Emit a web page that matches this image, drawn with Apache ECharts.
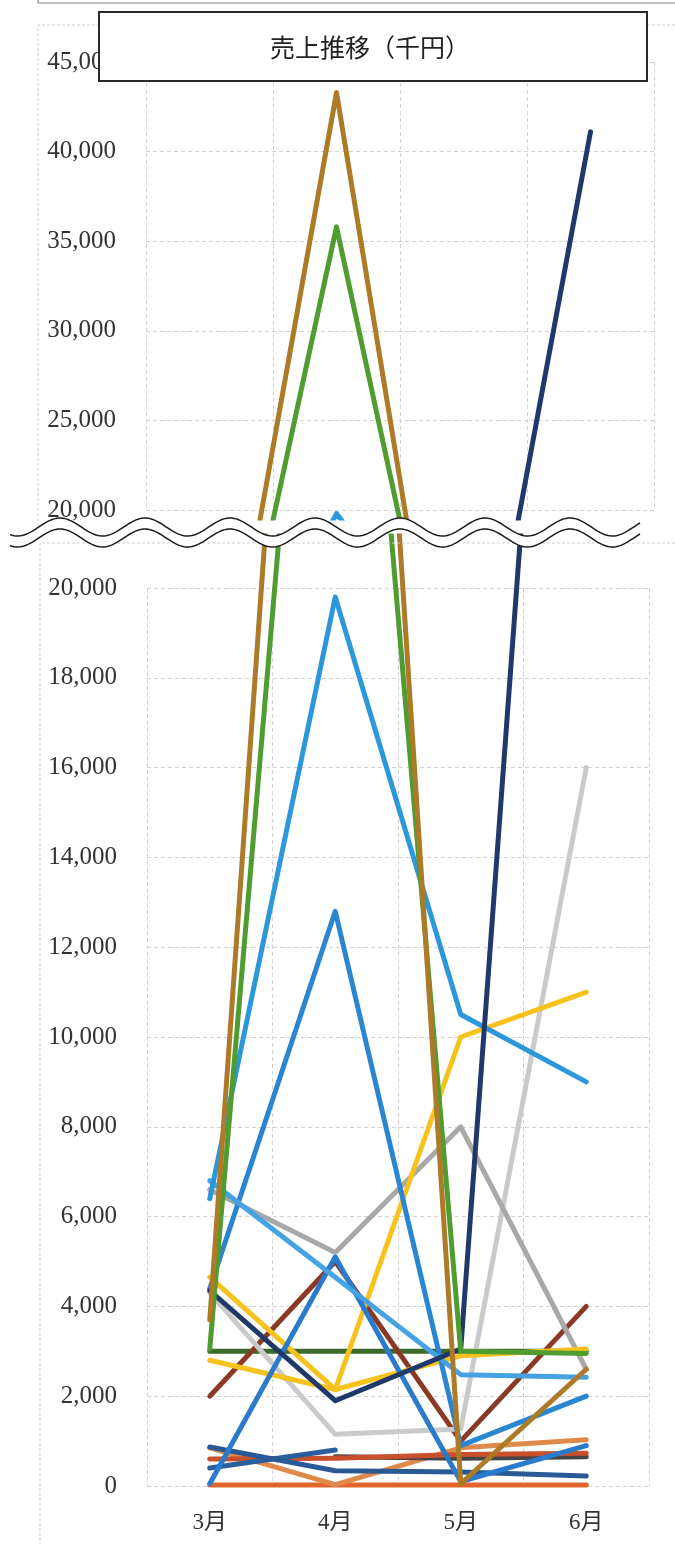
<!DOCTYPE html>
<html>
<head>
<meta charset="utf-8">
<script src="https://cdn.jsdelivr.net/npm/echarts@6/dist/echarts.min.js"></script>
<style>
  html, body { margin: 0; padding: 0; background: #ffffff; }
  #chart { width: 675px; height: 1544px; }
</style>
</head>
<body>
<div id="chart"></div>
<script>
// Months on the category axis
const months = ['3月', '4月', '5月', '6月'];

// Monthly sales per line (thousand yen)
const goldLine      = [3700, 43300, 50, 2600];
const greenLine     = [3050, 35800, 3000, 2950];
const navyLine      = [4350, 1900, 3050, 41100];
const skyLine       = [6400, 19800, 10500, 9000];
const blueLineB     = [4400, 12800, 900, 2000];
const blueLineA     = [50, 5100, 100, 900];
const lightBlueLine = [6800, 4650, 2480, 2420];
const yellowLineA   = [4650, 2150, 10000, 11000];
const yellowLineB   = [2800, 2150, 2900, 3050];
const grayLine      = [6600, 5200, 8000, 2600];
const silverLine    = [4300, 1150, 1270, 16000];
const maroonLine    = [2000, 5000, 1000, 4000];
const forestLine    = [3000, 3000, 3000, 3000];
const steelLine     = [870, 340, 310, 220];
const steelShort    = [400, 800, null, null];
const rustLine      = [600, 620, 700, 730];
const charcoalLine  = [null, 650, 620, 650];
const apricotLine   = [850, 30, 850, 1030];
const orangeLine    = [20, 20, 20, 20];

// Axis ranges of the two panels (upper panel / lower panel)
const upperRange = { min: 20000, max: 45000, step: 5000 };
const lowerRange = { min: 0, max: 20000, step: 2000 };

const lines = [
  { data: orangeLine,    color: '#e0662b' },
  { data: apricotLine,   color: '#df8a4a' },
  { data: charcoalLine,  color: '#454545' },
  { data: rustLine,      color: '#c9502c' },
  { data: steelShort,    color: '#2a5f9e' },
  { data: steelLine,     color: '#2a5a96' },
  { data: forestLine,    color: '#3a6a2a' },
  { data: maroonLine,    color: '#8a3a24' },
  { data: silverLine,    color: '#c9cbcb' },
  { data: grayLine,      color: '#a8a8a8' },
  { data: yellowLineB,   color: '#f8c21c' },
  { data: yellowLineA,   color: '#f8c21c' },
  { data: blueLineA,     color: '#2a7bcc' },
  { data: blueLineB,     color: '#2a86d2' },
  { data: lightBlueLine, color: '#45a3e4' },
  { data: skyLine,       color: '#2c98dc' },
  { data: navyLine,      color: '#1f3a6a' },
  { data: greenLine,     color: '#4f9c30' },
  { data: goldLine,      color: '#ad7a27' }
];

// Panel geometry
const W = 675;
const upper = { left: 146, right: 654, top: 62, bottom: 510 };
const lower = { left: 147, right: 649, top: 588, bottom: 1486 };
// Series in each panel run a little past the 20,000 line towards the break
const upperSeriesBottom = 518;
const lowerSeriesTop = 536;
const upperPx = (upper.bottom - upper.top) / (upperRange.max - upperRange.min);
const lowerPx = (lower.bottom - lower.top) / (lowerRange.max - lowerRange.min);
const upperSeriesMin = upperRange.min - (upperSeriesBottom - upper.bottom) / upperPx;
const lowerSeriesMax = lowerRange.max + (lower.top - lowerSeriesTop) / lowerPx;

const gridStyle = { color: '#d2d2d2', width: 1, type: [4, 3] };
const numFmt = v => v.toLocaleString('en-US');
const yLabel = {
  fontFamily: 'Liberation Serif', fontSize: 25, color: '#333333', margin: 30,
  formatter: numFmt
};

function gridBox(g, top, bottom) {
  return { left: g.left, width: g.right - g.left, top: top, height: bottom - top, containLabel: false };
}

const option = {
  animation: false,
  backgroundColor: '#ffffff',
  grid: [
    gridBox(upper, upper.top, upper.bottom),
    gridBox(lower, lower.top, lower.bottom),
    gridBox(upper, upper.top, upperSeriesBottom),
    gridBox(lower, lowerSeriesTop, lower.bottom)
  ],
  xAxis: [
    { gridIndex: 0, type: 'category', data: months, boundaryGap: true,
      axisLine: { show: false }, axisTick: { show: false }, axisLabel: { show: false },
      splitLine: { show: true, lineStyle: gridStyle } },
    { gridIndex: 1, type: 'category', data: months, boundaryGap: true,
      axisLine: { show: false }, axisTick: { show: false },
      axisLabel: { fontFamily: "'Liberation Serif', 'Noto Sans CJK JP'", fontSize: 23, color: '#333333', margin: 25 },
      splitLine: { show: true, lineStyle: gridStyle } },
    { gridIndex: 2, type: 'category', data: months, boundaryGap: true, show: false },
    { gridIndex: 3, type: 'category', data: months, boundaryGap: true, show: false }
  ],
  yAxis: [
    { gridIndex: 0, type: 'value', min: upperRange.min, max: upperRange.max, interval: upperRange.step,
      axisLine: { show: false }, axisTick: { show: false }, axisLabel: yLabel,
      splitLine: { show: true, lineStyle: gridStyle } },
    { gridIndex: 1, type: 'value', min: lowerRange.min, max: lowerRange.max, interval: lowerRange.step,
      axisLine: { show: false }, axisTick: { show: false }, axisLabel: yLabel,
      splitLine: { show: true, lineStyle: gridStyle } },
    { gridIndex: 2, type: 'value', min: upperSeriesMin, max: upperRange.max, show: false, splitLine: { show: false } },
    { gridIndex: 3, type: 'value', min: lowerRange.min, max: lowerSeriesMax, show: false, splitLine: { show: false } }
  ],
  series: [],
  graphic: []
};

lines.forEach((ln, i) => {
  [2, 3].forEach(axisIdx => {
    option.series.push({
      type: 'line',
      xAxisIndex: axisIdx,
      yAxisIndex: axisIdx,
      data: ln.data,
      showSymbol: false,
      symbol: 'none',
      clip: true,
      connectNulls: false,
      z: 3 + i * 0.01,
      lineStyle: { color: ln.color, width: 5, cap: 'round', join: 'round' }
    });
  });
});

// Break mark between the panels: two parallel waves with a white band
function wave(offset) {
  const pts = [];
  for (let x = 10; x <= 640; x += 2) {
    pts.push([x, 527 + offset - 9 * Math.cos(2 * Math.PI * (x - 60) / 85)]);
  }
  return pts;
}
const waveTop = wave(0);
const waveBottom = wave(11);
const band = waveTop.concat(waveBottom.slice().reverse());

option.graphic = [
  // edge of the block above
  { type: 'polyline', z: 20, shape: { points: [[38, 0], [38, 3], [W, 3]] },
    style: { stroke: '#7a7a7a', lineWidth: 1, fill: null } },
  // frame of the upper panel
  { type: 'polyline', z: 20, shape: { points: [[W, 25], [38, 25], [38, 530]] },
    style: { stroke: '#cfcfcf', lineWidth: 1, lineDash: [3, 2], fill: null } },
  // frame of the lower panel
  { type: 'polyline', z: 20, shape: { points: [[W, 543], [40, 543], [40, 1544]] },
    style: { stroke: '#cfcfcf', lineWidth: 1, lineDash: [3, 2], fill: null } },
  { type: 'polygon', z: 30, shape: { points: band }, style: { fill: '#ffffff', stroke: null } },
  { type: 'polyline', z: 31, shape: { points: waveTop }, style: { stroke: '#1a1a1a', lineWidth: 1.5, fill: null } },
  { type: 'polyline', z: 31, shape: { points: waveBottom }, style: { stroke: '#1a1a1a', lineWidth: 1.5, fill: null } },
  // title box
  { type: 'rect', z: 40, shape: { x: 99, y: 12, width: 548, height: 69 },
    style: { fill: '#ffffff', stroke: '#2a2a2a', lineWidth: 2 } },
  { type: 'text', z: 41, x: 370, y: 47,
    style: { text: '売上推移（千円）', fontFamily: 'Noto Sans CJK JP', fontSize: 25,
             fill: '#222222', align: 'center', verticalAlign: 'middle' } }
];

const chart = echarts.init(document.getElementById('chart'), null, { renderer: 'canvas' });
chart.setOption(option);
</script>
</body>
</html>
